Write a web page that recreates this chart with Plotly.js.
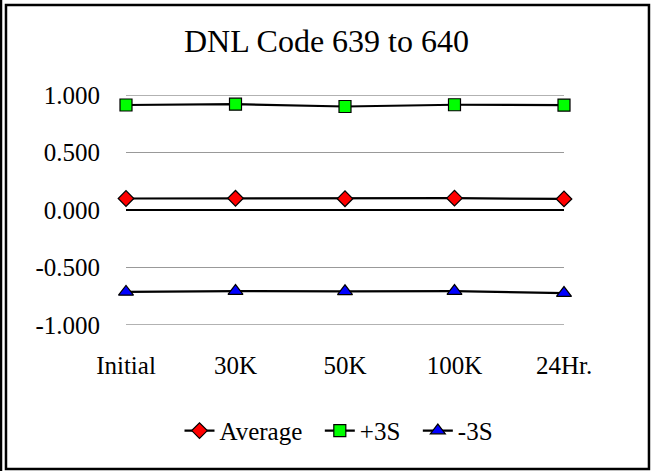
<!DOCTYPE html>
<html>
<head>
<meta charset="utf-8">
<script src="https://cdn.plot.ly/plotly-3.0.1.min.js"></script>
<style>html,body{margin:0;padding:0;background:#fff;}#chart{width:653px;height:471px;}</style>
</head>
<body>
<div id="chart"></div>
<script>
var categories = ["Initial", "30K", "50K", "100K", "24Hr."];
var average = [0.100, 0.102, 0.098, 0.103, 0.096];
var plus3S = [0.913, 0.920, 0.900, 0.915, 0.912];
var minus3S = [-0.712, -0.705, -0.707, -0.705, -0.722];
var seriesNames = ["Average", "+3S", "-3S"];
var yTicks = [-1, -0.5, 0, 0.5, 1];
var yTickText = ["-1.000", "-0.500", "0.000", "0.500", "1.000"];

var font = "Liberation Serif";
function tr(name, y, sym, col) {
  return {
    x: categories, y: y, name: name + "\u00a0\u00a0", type: "scatter", mode: "lines+markers",
    line: {color: "#000", width: 2.2},
    marker: {symbol: sym, color: col, size: sym === "triangle-up" ? 13 : 12, line: {color: "#000", width: 1.2}},
    cliponaxis: false
  };
}
var data = [
  tr(seriesNames[0], average, "diamond", "#ff0000"),
  tr(seriesNames[1], plus3S, "square", "#00ff00"),
  tr(seriesNames[2], minus3S, "triangle-up", "#0000ff")
];
var edgeGrid = [yTicks[0], yTicks[yTicks.length - 1]].map(function (v) {
  return {type: "line", xref: "paper", yref: "y", x0: 0, x1: 1, y0: v, y1: v, layer: "below", line: {color: "#999", width: 1.5}};
});
var layout = {
  width: 653, height: 471,
  margin: {l: 126, r: 89, t: 95, b: 146},
  paper_bgcolor: "#fff", plot_bgcolor: "#fff",
  font: {family: font, size: 25, color: "#000"},
  title: {text: "DNL Code 639 to 640", font: {family: font, size: 32, color: "#000"}, x: 0.5, xanchor: "center", y: 0.913, yanchor: "middle"},
  xaxis: {type: "category", range: [0, 4], showgrid: false, zeroline: false, showline: false,
          ticks: "outside", ticklen: 18, tickcolor: "rgba(0,0,0,0)", tickfont: {family: font, size: 25}},
  yaxis: {range: [-1, 1], tickvals: yTicks, ticktext: yTickText, showgrid: true, gridcolor: "#999", gridwidth: 1.5,
          zeroline: true, zerolinecolor: "#000", zerolinewidth: 1.5, showline: false,
          ticks: "outside", ticklen: 20, tickcolor: "rgba(0,0,0,0)", tickfont: {family: font, size: 25}},
  showlegend: true,
  legend: {orientation: "h", x: 0.5, xanchor: "center", y: -0.46, yanchor: "middle", font: {family: font, size: 25}, tracegroupgap: 0},
  shapes: edgeGrid.concat([
    {type: "line", xref: "paper", yref: "paper", x0: -0.2854, x1: -0.2854, y0: -0.635, y1: 1.413, line: {color: "#000", width: 2.5}},
    {type: "rect", xref: "paper", yref: "paper", x0: -0.274, x1: 1.194, y0: -0.626, y1: 1.391, line: {color: "#000", width: 2.5}}
  ])
};
Plotly.newPlot("chart", data, layout, {displayModeBar: false, staticPlot: true});
</script>
</body>
</html>
